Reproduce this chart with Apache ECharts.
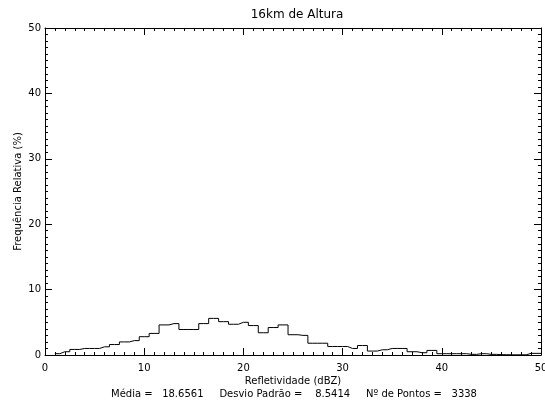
<!DOCTYPE html>
<html style="height: 100%">
<head>
<meta charset="utf-8">
<style type="text/css">
* {
	margin: 0;
	padding: 0;
}
</style>
</head>
<body style="height: 100%; margin: 0; background: #fff; overflow: hidden">
	<div id="main" style="width: 545px; height: 401px"></div>
	<script type="text/javascript" src="https://cdn.jsdelivr.net/npm/echarts@6/dist/echarts.min.js"></script>
	<script type="text/javascript">

       // histogram bin centres (dBZ) and relative frequency (%)
       var binCenters = [1, 2, 3, 4, 5, 6, 7, 8, 9, 10,
                         11, 12, 13, 14, 15, 16, 17, 18, 19, 20,
                         21, 22, 23, 24, 25, 26, 27, 28, 29, 30,
                         31, 32, 33, 34, 35, 36, 37, 38, 39, 40,
                         41, 42, 43, 44, 45, 46, 47, 48, 49, 50];
       var freq = [0.2, 0.5, 0.85, 1.0, 1.0, 1.25, 1.6, 2.0, 2.2, 2.8,
                   3.3, 4.6, 4.8, 3.9, 3.9, 4.8, 5.6, 5.1, 4.7, 5.0,
                   4.5, 3.4, 4.2, 4.6, 3.1, 3.0, 1.8, 1.8, 1.3, 1.3,
                   1.0, 1.45, 0.6, 0.8, 1.0, 1.0, 0.5, 0.35, 0.7, 0.2,
                   0.2, 0.2, 0.1, 0.2, 0.1, 0.05, 0.03, 0.03, 0.25, 0.25];

       var titleText = '16km de Altura';
       var xName = 'Refletividade (dBZ)';
       var yName = 'Frequência Relativa (%)';
       var statsText = 'Média =   18.6561     Desvio Padrão =    8.5414     Nº de Pontos =   3338';

       var lineData = [];
       for (var i = 0; i < binCenters.length; i++) {
           lineData.push([binCenters[i], freq[i]]);
       }

       var font = 'DejaVu Sans';
       var axisCommon = {
           type: 'value',
           min: 0,
           max: 50,
           interval: 10,
           axisLine: { show: true, onZero: false, lineStyle: { color: '#000', width: 1 } },
           axisTick: { show: true, inside: true, length: 7, lineStyle: { color: '#000' } },
           minorTick: { show: true, splitNumber: 10, length: 3, lineStyle: { color: '#000' } },
           splitLine: { show: false },
           minorSplitLine: { show: false }
       };

       function ax(extra) {
           return Object.assign({}, JSON.parse(JSON.stringify(axisCommon)), extra);
       }

       var myChart = echarts.init(document.getElementById('main'), null, { renderer: 'canvas' });

       var option = {
           backgroundColor: '#fff',
           animation: false,
           textStyle: { fontFamily: font, color: '#000' },
           title: {
               text: titleText,
               left: 292,
               textAlign: 'center',
               top: 4,
               textStyle: { fontFamily: font, fontWeight: 'normal', fontSize: 12, color: '#000' }
           },
           grid: { left: 45, right: 4, top: 28, bottom: 46, containLabel: false, outerBoundsMode: 'none' },
           xAxis: [
               ax({
                   position: 'bottom',
                   name: xName,
                   nameLocation: 'middle',
                   nameGap: 21,
                   nameMoveOverlap: false,
                   nameTextStyle: { fontFamily: font, fontSize: 10, color: '#000' },
                   axisLabel: { show: true, fontFamily: font, fontSize: 10, color: '#000', margin: 8 }
               }),
               ax({
                   position: 'top',
                   axisLabel: { show: false }
               })
           ],
           yAxis: [
               ax({
                   position: 'left',
                   name: yName,
                   nameLocation: 'middle',
                   nameGap: 22,
                   nameMoveOverlap: false,
                   nameRotate: 90,
                   nameTextStyle: { fontFamily: font, fontSize: 10, color: '#000' },
                   axisLabel: { show: true, fontFamily: font, fontSize: 10, color: '#000', margin: 4 }
               }),
               ax({
                   position: 'right',
                   axisLabel: { show: false }
               })
           ],
           graphic: [{
               type: 'text',
               x: 294,
               y: 389,
               style: {
                   text: statsText,
                   align: 'center',
                   fontFamily: font,
                   fontSize: 10,
                   fill: '#000'
               }
           }],
           series: [{
               type: 'line',
               step: 'middle',
               xAxisIndex: 0,
               yAxisIndex: 0,
               showSymbol: false,
               symbol: 'none',
               lineStyle: { color: '#000', width: 1 },
               data: lineData
           }]
       };

       myChart.setOption(option);
    </script>
</body>
</html>
